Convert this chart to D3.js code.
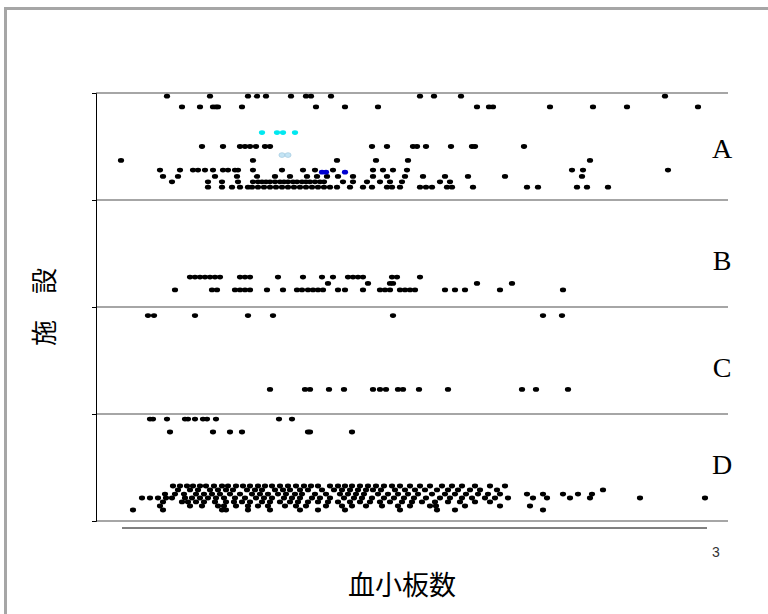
<!DOCTYPE html>
<html>
<head>
<meta charset="utf-8">
<script src="https://cdn.jsdelivr.net/npm/d3@7"></script>
<style>
  body { margin: 0; background: #fff; }
</style>
</head>
<body>
<div id="chart"></div>
<script>
// Facilities and where their letter sits on the y scale
const facilities = ["A", "B", "C", "D"];
const facilityLabelY = [3.48, 2.44, 1.44, 0.53];

// Jittered rows: [y value, platelet counts (x10^4/uL)]
const rowsA = [
  [3.97, [7.1, 11.4, 15.2, 16.1, 17.0, 19.5, 21.0, 21.5, 23.5, 32.4, 33.8, 36.5, 56.9]],
  [3.87, [8.6, 10.4, 11.7, 12.0, 12.2, 14.6, 22.0, 24.9, 28.2, 38.1, 39.3, 39.7, 45.4, 49.7, 53.1, 60.2]],
  [3.50, [10.6, 12.7, 14.4, 14.9, 15.4, 16.0, 16.9, 17.4, 27.6, 29.1, 31.7, 32.1, 33.0, 35.5, 37.6, 37.9, 42.8]],
  [3.37, [2.5, 15.7, 24.1, 28.0, 31.2, 49.4]],
  [3.28, [6.4, 8.4, 9.7, 10.2, 10.9, 11.7, 12.7, 13.2, 13.9, 14.2, 15.7, 18.6, 20.7, 21.9, 23.7, 27.7, 28.7, 29.7, 31.1, 47.6, 48.7, 57.2]],
  [3.22, [6.7, 8.2, 11.9, 14.1, 16.1, 17.9, 19.4, 21.1, 22.1, 23.1, 24.2, 25.7, 27.7, 29.1, 30.9, 32.7, 34.9, 37.2, 40.9, 48.6]],
  [3.17, [7.6, 11.2, 12.6, 14.2, 15.7, 16.2, 16.6, 17.0, 17.4, 17.9, 18.4, 18.8, 19.2, 19.7, 20.1, 20.6, 21.0, 21.4, 21.9, 22.4, 22.8, 24.7, 25.7, 27.1, 28.4, 29.4, 30.6, 34.4, 35.4]],
  [3.12, [11.2, 12.6, 13.6, 14.4, 15.2, 15.6, 16.2, 16.8, 17.4, 18.0, 18.6, 19.2, 19.8, 20.4, 21.0, 21.6, 22.2, 22.8, 23.4, 24.1, 25.4, 26.7, 27.6, 29.1, 29.6, 30.4, 32.4, 33.0, 33.6, 35.1, 35.6, 37.7, 43.1, 44.2, 48.1, 49.1, 51.2]]
];
const rowsB = [
  [2.28, [9.4, 9.9, 10.4, 10.9, 11.4, 11.9, 12.4, 14.4, 14.9, 15.4, 18.2, 20.7, 22.6, 23.7, 25.2, 25.7, 26.2, 26.7, 29.6, 30.1, 32.4]],
  [2.22, [23.2, 27.2, 29.4, 29.7, 38.1, 41.6]],
  [2.16, [7.9, 11.6, 12.1, 13.9, 14.4, 14.9, 15.4, 17.1, 18.7, 20.1, 20.6, 21.2, 21.7, 22.2, 22.7, 24.2, 24.9, 26.7, 28.4, 28.9, 29.4, 30.4, 30.9, 31.4, 31.9, 34.9, 35.9, 36.9, 40.4, 46.7]]
];
const rowsC = [
  [1.92, [5.2, 5.8, 9.9, 15.2, 17.7, 29.7, 44.7, 46.6]],
  [1.23, [17.4, 20.9, 21.4, 23.3, 24.8, 27.7, 28.4, 29.0, 30.2, 30.7, 32.3, 35.2, 42.6, 44.0, 47.2]]
];
const rowsD = [
  [0.953, [5.4, 5.7, 7.1, 8.9, 9.2, 9.9, 10.7, 11.1, 12.0, 18.3, 19.6]],
  [0.832, [7.4, 11.7, 13.4, 14.6, 21.2, 21.4, 25.6]],
  [0.327, [7.7, 8.4, 9.1, 9.7, 10.4, 11.0, 11.8, 12.6, 13.2, 14.0, 14.7, 15.4, 16.2, 16.9, 17.6, 18.4, 19.2, 20.0, 20.8, 21.5, 22.2, 23.4, 24.2, 24.9, 25.6, 26.4, 27.2, 28.0, 28.8, 29.6, 30.4, 31.4, 32.4, 33.4, 34.6, 35.6, 36.6, 37.9, 39.4, 40.9]],
  [0.290, [8.2, 9.4, 10.2, 11.4, 12.2, 13.0, 13.7, 15.1, 15.9, 16.6, 17.9, 18.7, 19.4, 20.4, 21.2, 22.6, 23.8, 24.6, 25.4, 26.2, 27.0, 27.7, 28.5, 29.9, 30.9, 31.9, 32.9, 34.1, 35.2, 36.2, 37.4, 38.4, 40.1, 50.7]],
  [0.252, [6.9, 7.9, 8.8, 10.0, 10.8, 11.6, 12.4, 13.4, 14.4, 15.6, 16.4, 17.2, 18.2, 19.0, 19.9, 20.6, 21.9, 23.0, 24.4, 25.2, 26.0, 26.8, 28.2, 29.2, 30.2, 31.2, 32.2, 33.6, 34.9, 35.9, 37.0, 38.2, 39.2, 40.4, 43.1, 44.7, 46.7, 48.2, 49.6]],
  [0.215, [4.6, 5.4, 6.2, 7.0, 7.6, 8.9, 9.6, 10.4, 11.2, 12.0, 12.8, 13.9, 14.9, 16.0, 16.8, 17.6, 18.8, 19.6, 20.4, 21.6, 22.4, 23.4, 24.8, 25.8, 26.6, 27.6, 28.8, 29.8, 30.8, 31.8, 33.0, 34.4, 35.4, 36.6, 37.6, 38.9, 39.9, 41.2, 43.7, 45.1, 47.4, 49.4, 54.4, 60.9]],
  [0.178, [6.7, 8.6, 9.2, 10.0, 10.8, 11.9, 13.0, 13.8, 14.6, 15.4, 16.6, 17.4, 18.4, 19.4, 20.2, 21.2, 22.2, 23.2, 24.2, 25.4, 26.4, 27.4, 28.4, 29.4, 30.6, 31.6, 32.6, 33.9, 35.2, 36.4, 37.9, 39.4]],
  [0.140, [6.4, 9.4, 10.6, 12.2, 12.8, 14.0, 15.2, 16.2, 17.2, 18.9, 20.0, 21.0, 23.0, 24.6, 25.6, 27.0, 28.6, 30.2, 31.4, 33.4, 34.0, 36.9, 40.4, 43.4]],
  [0.103, [3.7, 6.7, 12.6, 13.0, 15.2, 17.4, 20.4, 22.2, 24.9, 30.4, 34.1, 35.9, 44.7]]
];

// Highlighted points in facility A
const cyanPlatelet = [16.6, 18.1, 18.7, 19.9];
const cyanY = 3.63;
const lightBluePlatelet = [18.6, 19.2];
const lightBlueY = 3.42;
const bluePlatelet = [22.6, 23.0, 24.9];
const blueY = 3.26;

// Dimensions
const width = 768, height = 614;
const plot = {left: 96, right: 728, top: 93, bottom: 521};

const svg = d3.select('#chart')
  .append('svg')
  .attr('width', width)
  .attr('height', height)
  .style('font-family', 'Liberation Serif, serif');

// Outer frame
svg.append('rect')
  .attr('x', 5.5).attr('y', 8.5)
  .attr('width', width + 10).attr('height', height + 10)
  .attr('fill', 'none')
  .attr('stroke', '#a6a6a6')
  .attr('stroke-width', 3);

// Scales
const x = d3.scaleLinear().domain([0, 63.2]).range([plot.left, plot.right]);
const y = d3.scaleLinear().domain([0, 4]).range([plot.bottom, plot.top]);

// Gridlines between facilities
svg.append('g')
  .selectAll('line')
  .data(y.ticks(4))
  .join('line')
  .attr('x1', plot.left).attr('x2', plot.right)
  .attr('y1', d => y(d)).attr('y2', d => y(d))
  .attr('stroke', '#a6a6a6')
  .attr('stroke-width', 2);

// Left axis
const yAxis = svg.append('g')
  .attr('transform', `translate(${plot.left},0)`)
  .call(d3.axisLeft(y).ticks(4).tickSize(4).tickFormat(''));
yAxis.selectAll('path, line').attr('stroke', '#000');

// Bottom line
svg.append('line')
  .attr('x1', x(2.6)).attr('x2', x(61.1))
  .attr('y1', 528).attr('y2', 528)
  .attr('stroke', '#000')
  .attr('stroke-width', 1);

// Flatten rows into points
const toPoints = rows => rows.flatMap(([yv, xs]) => xs.map(v => ({x: v, y: yv})));
const blackPoints = [rowsA, rowsB, rowsC, rowsD].flatMap(toPoints);

const drawPoints = (pts, fill, stroke) => {
  svg.append('g')
    .selectAll('ellipse')
    .data(pts)
    .join('ellipse')
    .attr('cx', d => x(d.x))
    .attr('cy', d => y(d.y))
    .attr('rx', 3.1)
    .attr('ry', 2.4)
    .attr('fill', fill)
    .attr('stroke', stroke || 'none')
    .attr('stroke-width', 0.6);
};

drawPoints(blackPoints, '#000');
drawPoints(cyanPlatelet.map(v => ({x: v, y: cyanY})), '#00e8f0');
drawPoints(lightBluePlatelet.map(v => ({x: v, y: lightBlueY})), '#c4e4f4', '#9cc4dc');
drawPoints(bluePlatelet.map(v => ({x: v, y: blueY})), '#0000d0');

// Facility letters
svg.append('g')
  .selectAll('text')
  .data(facilities)
  .join('text')
  .attr('x', 722)
  .attr('y', (d, i) => y(facilityLabelY[i]))
  .attr('dy', '0.35em')
  .attr('text-anchor', 'middle')
  .style('font-size', '28px')
  .text(d => d);

// Axis titles
svg.append('text')
  .attr('transform', 'translate(45,307) rotate(-90)')
  .attr('dy', '0.35em')
  .attr('text-anchor', 'middle')
  .style('font-family', 'Noto Sans CJK JP, sans-serif')
  .style('font-size', '26px')
  .text('施　設');

svg.append('text')
  .attr('x', 402).attr('y', 586)
  .attr('dy', '0.35em')
  .attr('text-anchor', 'middle')
  .style('font-family', 'Noto Sans CJK JP, sans-serif')
  .style('font-size', '27px')
  .text('血小板数');

svg.append('text')
  .attr('x', 716).attr('y', 552)
  .attr('dy', '0.35em')
  .attr('text-anchor', 'middle')
  .style('font-family', 'Liberation Sans, sans-serif')
  .style('font-size', '14px')
  .attr('fill', '#333')
  .text('3');
</script>
</body>
</html>
